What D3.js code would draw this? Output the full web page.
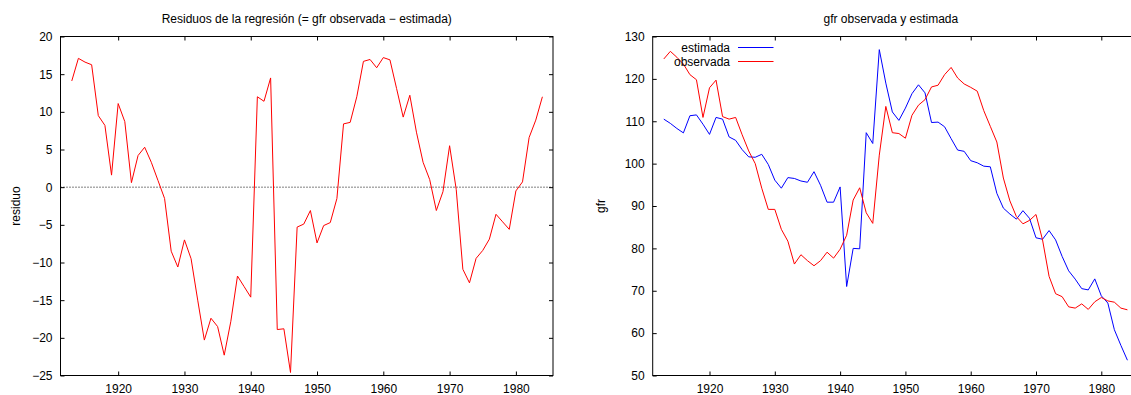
<!DOCTYPE html>
<html>
<head>
<meta charset="utf-8">
<script src="https://cdn.jsdelivr.net/npm/d3@7"></script>
<style>
  body { margin: 0; background: #fff; }
  text { font-family: "Liberation Sans", Arial, sans-serif; font-size: 12px; fill: #000; }
</style>
</head>
<body>
<svg width="1131" height="395"></svg>
<script>
// años 1913-1984
var years = d3.range(1913, 1985);

var residuo = [
  14.1, 17.1, 16.6, 16.25, 9.5, 8.2, 1.6, 11.1, 8.7, 0.6,
  4.2, 5.3, 3.3, 0.9, -1.5, -8.5, -10.6, -7.0, -9.5, -15.0,
  -20.3, -17.4, -18.5, -22.3, -17.8, -11.8, -13.2, -14.6, 12.0, 11.4,
  14.5, -18.9, -18.8, -24.6, -5.3, -4.9, -3.1, -7.4, -5.1, -4.7,
  -1.5, 8.4, 8.6, 12.0, 16.7, 16.95, 15.85, 17.2, 16.9, 13.1,
  9.3, 12.2, 7.3, 3.3, 1.0, -3.1, -0.6, 5.5, -0.3, -10.9,
  -12.7, -9.45, -8.4, -6.9, -3.6, -4.6, -5.6, -0.5, 0.7, 6.6,
  8.9, 12.0
];

var estimada = [
  110.5, 109.5, 108.3, 107.25, 111.3, 111.5, 109.3, 106.9, 110.9, 110.5,
  106.3, 105.5, 103.3, 101.6, 101.5, 102.2, 99.8, 96.1, 94.2, 96.7,
  96.5, 95.9, 95.6, 98.1, 94.9, 90.9, 90.9, 94.5, 71.0, 80.0,
  79.9, 107.3, 104.75, 126.9, 119.0, 112.2, 110.2, 113.1, 116.5, 118.6,
  116.7, 109.7, 109.8, 108.7, 105.9, 103.2, 102.9, 100.7, 100.2, 99.4,
  99.25, 93.0, 89.5, 88.1, 86.9, 88.9, 87.1, 82.5, 82.15, 84.2,
  82.0, 78.1, 74.7, 72.75, 70.5, 70.2, 72.8, 68.8, 67.1, 60.8,
  57.1, 53.6
];

var observada = [
  124.7, 126.5, 125.1, 123.5, 121.0, 119.8, 110.9, 117.9, 119.7, 111.1,
  110.5, 110.9, 106.8, 103.0, 100.0, 94.2, 89.2, 89.2, 84.5, 81.7,
  76.3, 78.5, 77.1, 75.9, 77.1, 79.1, 77.7, 79.8, 83.1, 91.4,
  94.3, 88.4, 85.9, 102.0, 113.5, 107.3, 107.1, 106.0, 111.4, 113.8,
  115.1, 118.1, 118.5, 121.0, 122.7, 120.2, 118.8, 118.0, 117.1, 112.5,
  108.8, 105.1, 96.6, 91.2, 87.5, 85.8, 86.6, 88.0, 82.0, 73.4,
  69.3, 68.6, 66.2, 65.9, 66.9, 65.6, 67.4, 68.4, 67.6, 67.3,
  65.9, 65.5
];

var xTicks = [1920, 1930, 1940, 1950, 1960, 1970, 1980];
var resTicks = [20, 15, 10, 5, 0, -5, -10, -15, -20, -25];
var gfrTicks = [130, 120, 110, 100, 90, 80, 70, 60, 50];

var svg = d3.select("svg");
var plotTop = 36.5, plotBottom = 375.5;

function panel(left, right, yDomain, yTicks, title, ylab, ylabX) {
  var x = d3.scaleLinear().domain([1911.3, 1985.6]).range([left, right]);
  var y = d3.scaleLinear().domain(yDomain).range([plotBottom, plotTop]);
  var g = svg.append("g");

  //ticks, mirrored on all sides, pointing inward
  var ax = function(a) {
    a.attr("font-size", null).attr("font-family", null);
    a.select(".domain").remove();
  };
  g.append("g").attr("transform", "translate(0," + plotBottom + ")")
    .call(d3.axisBottom(x).tickValues(xTicks).tickSize(-4).tickPadding(9).tickFormat(d3.format("d"))).call(ax);
  g.append("g").attr("transform", "translate(0," + plotTop + ")")
    .call(d3.axisTop(x).tickValues(xTicks).tickSize(-4).tickFormat("")).call(ax);
  g.append("g").attr("transform", "translate(" + left + ",0)")
    .call(d3.axisLeft(y).tickValues(yTicks).tickSize(-4).tickPadding(8)).call(ax);
  g.append("g").attr("transform", "translate(" + right + ",0)")
    .call(d3.axisRight(y).tickValues(yTicks).tickSize(-4).tickFormat("")).call(ax);
  g.selectAll(".tick line").attr("stroke", "#000");

  g.append("rect")
    .attr("x", left).attr("y", plotTop)
    .attr("width", right - left).attr("height", plotBottom - plotTop)
    .attr("fill", "none").attr("stroke", "#000").attr("stroke-width", 1);

  g.append("text").attr("x", (left + Math.min(right, 1129)) / 2).attr("y", 23)
    .attr("text-anchor", "middle").text(title);
  g.append("text")
    .attr("transform", "translate(" + ylabX + "," + ((plotTop + plotBottom) / 2) + ") rotate(-90)")
    .attr("text-anchor", "middle").attr("dy", "0.35em").text(ylab);

  return { g: g, x: x, y: y };
}

//panel izquierdo: residuos
var p1 = panel(60.5, 553, [-25, 20], resTicks,
  "Residuos de la regresión (= gfr observada − estimada)", "residuo", 16);

p1.g.append("line")
  .attr("x1", 60.5).attr("x2", 553)
  .attr("y1", p1.y(0)).attr("y2", p1.y(0))
  .attr("stroke", "#000").attr("stroke-width", 1).attr("stroke-dasharray", "1,2");

var line1 = d3.line().x(function(d, i) { return p1.x(years[i]); }).y(function(d) { return p1.y(d); });
p1.g.append("path").datum(residuo).attr("d", line1)
  .attr("fill", "none").attr("stroke", "#ff0000").attr("stroke-width", 1);

//panel derecho: gfr observada y estimada
var p2 = panel(652.7, 652.7 + 74.3 * 6.53, [50, 130], gfrTicks,
  "gfr observada y estimada", "gfr", 601);

var line2 = d3.line().x(function(d, i) { return p2.x(years[i]); }).y(function(d) { return p2.y(d); });
p2.g.append("path").datum(estimada).attr("d", line2)
  .attr("fill", "none").attr("stroke", "#0000ff").attr("stroke-width", 1);
p2.g.append("path").datum(observada).attr("d", line2)
  .attr("fill", "none").attr("stroke", "#ff0000").attr("stroke-width", 1);

//leyenda
var legend = [["estimada", "#0000ff"], ["observada", "#ff0000"]];
var lg = p2.g.selectAll(".leg").data(legend).enter().append("g")
  .attr("transform", function(d, i) { return "translate(0," + (47.5 + i * 14) + ")"; });
lg.append("text").attr("x", 730).attr("dy", "0.35em").attr("text-anchor", "end").text(function(d) { return d[0]; });
lg.append("line").attr("x1", 738).attr("x2", 773.5)
  .attr("stroke", function(d) { return d[1]; }).attr("stroke-width", 1);
</script>
</body>
</html>
